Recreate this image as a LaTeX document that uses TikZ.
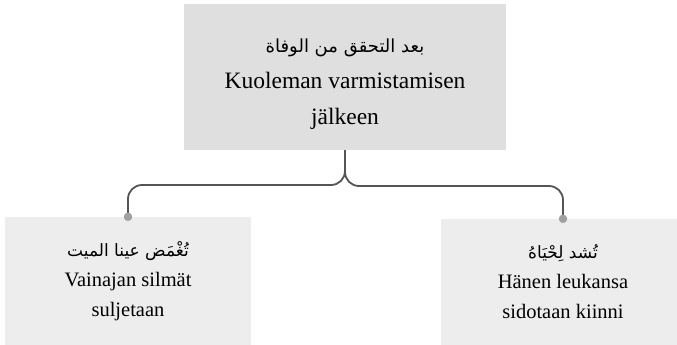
\documentclass[tikz,border=0pt]{standalone}
\usepackage{fontspec}
\setmainfont{Liberation Serif}
\newfontfamily\arabicfont[Script=Arabic]{DejaVu Sans}
\TeXXeTstate=1
\definecolor{topgray}{HTML}{DFDFDF}
\definecolor{leafgray}{HTML}{EDEDED}
\definecolor{linegray}{HTML}{555555}
\definecolor{dotgray}{HTML}{A0A0A0}
\begin{document}
\begin{tikzpicture}[x=1pt,y=-1pt,
  topbox/.style={fill=topgray, minimum width=322pt, minimum height=146pt, inner sep=0pt, align=center, font=\fontsize{23.5}{36}\selectfont},
  leafbox/.style={fill=leafgray, minimum width=246pt, minimum height=128pt, inner sep=0pt, align=center, font=\fontsize{20.5}{30}\selectfont},
  conn/.style={draw=linegray, line width=1.8pt, rounded corners=14pt},
  dotmark/.style={circle, fill=dotgray, inner sep=0pt, minimum size=8.5pt}]
\useasboundingbox (0,0) rectangle (677,345);
\begin{scope}
\clip (0,0) rectangle (677,345);
\node[topbox] (root) at (345,77) {\rule{0pt}{28pt}{\arabicfont\fontsize{18}{36}\selectfont\beginR بعد التحقق من الوفاة\endR}\\Kuoleman varmistamisen\\jälkeen};
\node[leafbox] (left) at (128,281) {{\arabicfont\fontsize{17}{30}\selectfont\beginR تُغْمَض عينا الميت\endR}\\Vainajan silmät\\suljetaan};
\node[leafbox, minimum width=244pt, minimum height=126pt] (right) at (563,282) {{\arabicfont\fontsize{17}{30}\selectfont\beginR تُشد لِحْيَاهُ\endR}\\Hänen leukansa\\sidotaan kiinni};
\end{scope}
\draw[conn] (root.south) -- (root.south |- 0,185) -| (left.north);
\draw[conn] (root.south) -- (root.south |- 0,186) -| (right.north);
\node[dotmark] (ldot) at (left.north) {};
\node[dotmark] (rdot) at (right.north) {};
\end{tikzpicture}
\end{document}
